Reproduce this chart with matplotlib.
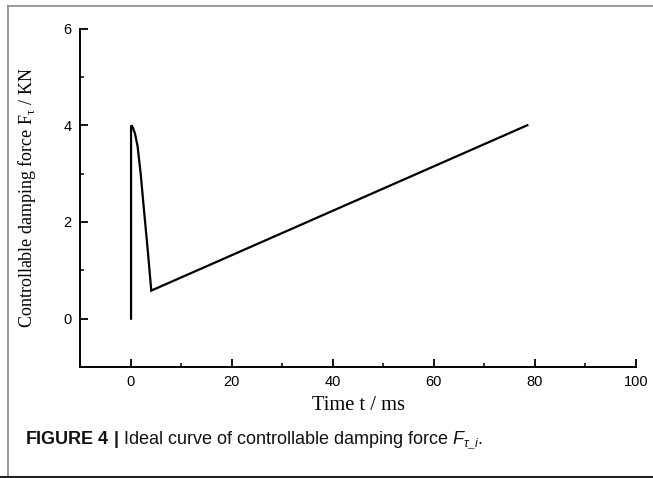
import matplotlib
matplotlib.use('Agg')
import matplotlib.pyplot as plt
from matplotlib.ticker import MultipleLocator
from matplotlib.lines import Line2D

# Ideal curve of controllable damping force
time_ms = [0.1, 0.1, 0.2, 0.5, 0.9, 1.4, 2.0, 2.7, 3.4, 4.1, 78.5]
force_kn = [0.0, 3.95, 4.0, 3.94, 3.82, 3.56, 3.0, 2.2, 1.42, 0.58, 4.0]

x_ticks = [0, 20, 40, 60, 80, 100]
y_ticks = [0, 2, 4, 6]

plt.rcParams['mathtext.fontset'] = 'custom'
plt.rcParams['mathtext.rm'] = 'Liberation Serif'
plt.rcParams['mathtext.it'] = 'Liberation Sans:italic'
plt.rcParams['mathtext.bf'] = 'Liberation Sans:bold'

W, H = 653, 478
fig = plt.figure(figsize=(W / 100, H / 100), dpi=100)
ax = fig.add_axes([80 / W, 1 - 367 / H, (636 - 80) / W, (367 - 28.5) / H])

ax.plot(time_ms, force_kn, color='black', lw=1.6, solid_joinstyle='miter')

ax.set_xlim(-10, 100)
ax.set_ylim(-1, 6)
ax.set_xticks(x_ticks)
ax.set_yticks(y_ticks)
ax.xaxis.set_minor_locator(MultipleLocator(10))
ax.yaxis.set_minor_locator(MultipleLocator(1))
ax.tick_params(which='major', direction='in', length=6, width=1.3,
               labelsize=10.5, pad=6)
ax.tick_params(which='minor', direction='in', length=3, width=1.1)
for lab in ax.get_xticklabels() + ax.get_yticklabels():
    lab.set_family('Liberation Sans')

for side in ['top', 'right']:
    ax.spines[side].set_visible(False)
for side in ['left', 'bottom']:
    ax.spines[side].set_linewidth(1.4)

ax.set_xlabel('Time t / ms', family='Liberation Serif', fontsize=14.8, labelpad=5)
ax.set_ylabel(r'Controllable damping force F$_{\mathrm{\tau}}$ / KN',
              family='Liberation Serif', fontsize=13, labelpad=18)

# caption
fig.text(25 / W, 1 - 441 / H,
         r'$\mathbf{FIGURE\ 4\ |}$ Ideal curve of controllable damping force $F_{\tau\_i}$.',
         family='Liberation Sans', fontsize=13, va='center', ha='left',
         color='#111111')

# frame around the figure (left, top, bottom)
fig.add_artist(Line2D([8 / W, 8 / W], [0, 1 - 6 / H], transform=fig.transFigure,
                      color='#888888', lw=1.2))
fig.add_artist(Line2D([8 / W, 1], [1 - 6 / H, 1 - 6 / H], transform=fig.transFigure,
                      color='#888888', lw=1.2))
fig.add_artist(Line2D([0, 1], [1.5 / H, 1.5 / H], transform=fig.transFigure,
                      color='#222222', lw=1.5))

fig.savefig('out.png', dpi=100, facecolor='white')
